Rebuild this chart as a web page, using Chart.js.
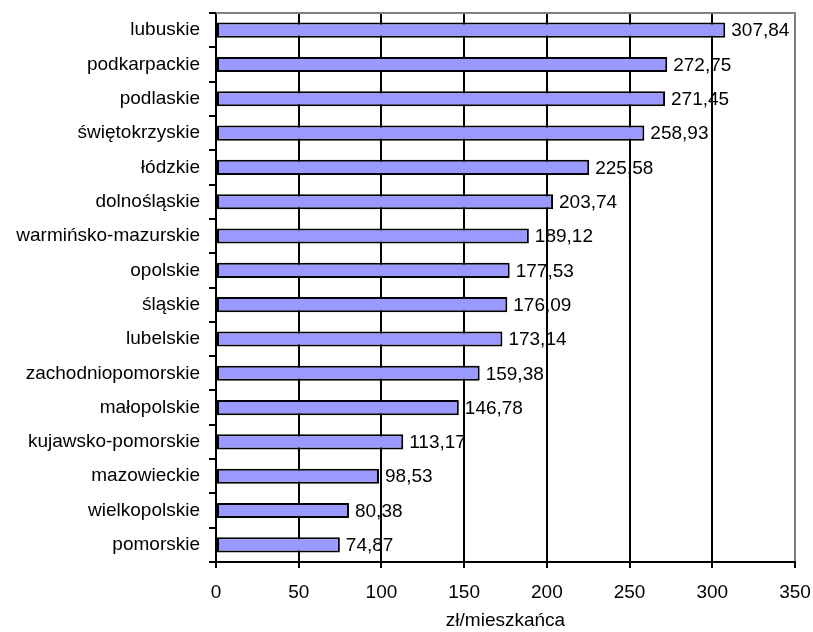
<!DOCTYPE html>
<html>
<head>
<meta charset="utf-8">
<script src="https://cdn.jsdelivr.net/npm/chart.js@4.4.1/dist/chart.umd.min.js"></script>
<style>
  html, body { margin: 0; padding: 0; background: #fff; }
  #wrap { width: 813px; height: 632px; }
</style>
</head>
<body>
<div id="wrap"><canvas id="c" width="813" height="632"></canvas></div>
<script>
// Województwa, sorted by amount per inhabitant
const regions = [
  'lubuskie', 'podkarpackie', 'podlaskie', 'świętokrzyskie', 'łódzkie',
  'dolnośląskie', 'warmińsko-mazurskie', 'opolskie', 'śląskie', 'lubelskie',
  'zachodniopomorskie', 'małopolskie', 'kujawsko-pomorskie', 'mazowieckie',
  'wielkopolskie', 'pomorskie'
];
const amounts = [
  307.84, 272.75, 271.45, 258.93, 225.58,
  203.74, 189.12, 177.53, 176.09, 173.14,
  159.38, 146.78, 113.17, 98.53, 80.38, 74.87
];
const axisMin = 0;
const axisMax = 350;
const axisStep = 50;
const axisTitle = 'zł/mieszkańca';

const FONT = 'Arial, "Liberation Sans", sans-serif';
const fmt = v => v.toFixed(2).replace('.', ',');

// Value labels to the right of each bar
const valueLabels = {
  id: 'valueLabels',
  afterDatasetsDraw(chart) {
    const ctx = chart.ctx;
    const meta = chart.getDatasetMeta(0);
    ctx.save();
    ctx.font = '19px ' + FONT;
    ctx.fillStyle = '#000';
    ctx.textAlign = 'left';
    ctx.textBaseline = 'middle';
    meta.data.forEach((bar, i) => {
      ctx.fillText(fmt(amounts[i]), bar.x + 6, bar.y + 1);
    });
    ctx.restore();
  }
};

// Grey frame on the top edge of the plot area
const topFrame = {
  id: 'topFrame',
  beforeDatasetsDraw(chart) {
    const { ctx, chartArea: a } = chart;
    ctx.save();
    ctx.strokeStyle = '#808080';
    ctx.lineWidth = 2;
    ctx.beginPath();
    ctx.moveTo(a.left, a.top);
    ctx.lineTo(a.right + 1, a.top);
    ctx.stroke();
    ctx.restore();
  }
};

new Chart(document.getElementById('c'), {
  type: 'bar',
  data: {
    labels: regions,
    datasets: [{
      data: amounts,
      backgroundColor: '#9999FF',
      borderColor: '#000',
      borderWidth: 2,
      borderSkipped: false,
      categoryPercentage: 1,
      barPercentage: 0.44
    }]
  },
  options: {
    indexAxis: 'y',
    responsive: false,
    animation: false,
    layout: { padding: { top: 13, right: 18, left: 0, bottom: 0 } },
    plugins: { legend: { display: false }, tooltip: { enabled: false } },
    scales: {
      x: {
        min: axisMin,
        max: axisMax,
        ticks: {
          stepSize: axisStep,
          color: '#000',
          font: { family: FONT, size: 19 },
          padding: 13,
          maxRotation: 0
        },
        grid: {
          color: c => (c.tick && c.tick.value === axisMax) ? '#808080' : '#000',
          tickColor: '#000',
          lineWidth: 2,
          tickLength: 6
        },
        border: { display: true, color: '#000', width: 2 },
        title: {
          display: true,
          text: axisTitle,
          color: '#000',
          font: { family: FONT, size: 19 },
          padding: { top: 0, bottom: 0 }
        },
        afterFit: s => { s.height = 70; s.paddingLeft = 0; s.paddingRight = 0; }
      },
      y: {
        ticks: {
          color: '#000',
          font: { family: FONT, size: 19 },
          padding: 9,
          autoSkip: false
        },
        grid: {
          offset: true,
          drawOnChartArea: false,
          color: '#000',
          lineWidth: 2,
          tickLength: 7
        },
        border: { display: true, color: '#000', width: 2 },
        afterFit: s => { s.width = 216; s.paddingTop = 0; s.paddingBottom = 0; }
      }
    }
  },
  plugins: [valueLabels, topFrame]
});
</script>
</body>
</html>
